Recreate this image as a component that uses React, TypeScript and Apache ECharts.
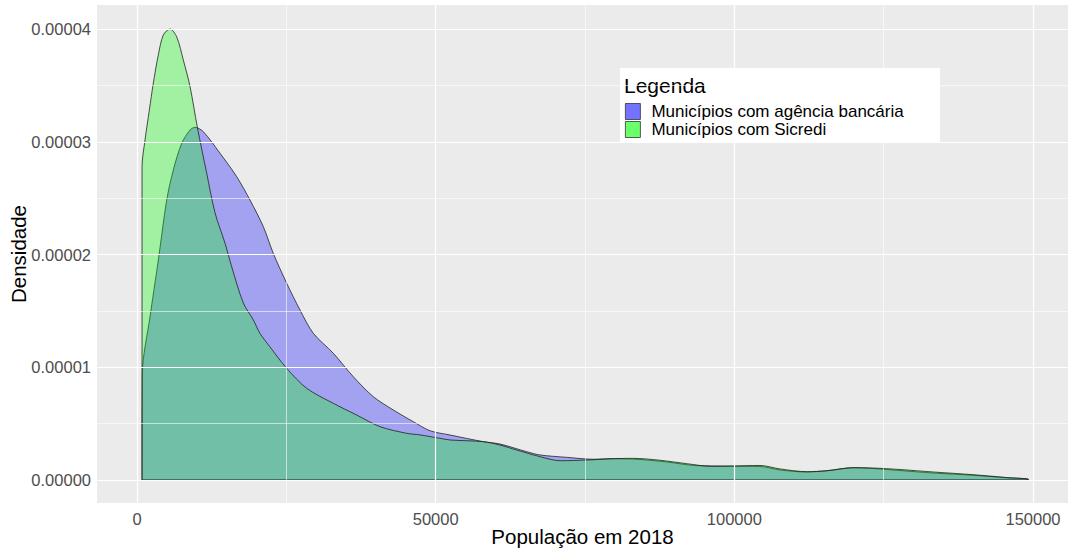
import React, { useEffect, useRef } from "react";
import * as echarts from "echarts";

// Tick values
const popTicks = [0, 50000, 100000, 150000];
const popMinor = [25000, 75000, 125000];
const densTicks = [0, 0.00001, 0.00002, 0.00003, 0.00004];
const densMinor = [0.000005, 0.000015, 0.000025, 0.000035];

// Densities below are given in units of 1e-5
const densScale = 1e-5;

// Municípios com agência bancária (density estimate)
const bancoPop = [837, 887, 2176, 3566, 4972, 6077, 7483, 8873, 9710, 11099, 13895, 16691, 18917, 21144, 22818, 25061, 27288, 29514, 32863, 36211, 39559, 42908, 46256, 49051, 52399, 57974, 60770, 65239, 67466, 71935, 76388, 79738, 84202, 88672, 93136, 99274, 104296, 107645, 112114, 115462, 119915, 123263, 127733, 133308, 140004, 145596, 149212, 149212];
const bancoDens = [0, 0.946, 1.448, 1.95, 2.483, 2.75, 2.986, 3.104, 3.128, 3.089, 2.898, 2.69, 2.483, 2.247, 2.01, 1.745, 1.508, 1.301, 1.124, 0.916, 0.739, 0.621, 0.517, 0.437, 0.399, 0.34, 0.319, 0.251, 0.222, 0.201, 0.184, 0.189, 0.182, 0.16, 0.13, 0.122, 0.12, 0.089, 0.071, 0.082, 0.109, 0.102, 0.084, 0.062, 0.042, 0.02, 0.007, 0];

// Municípios com Sicredi (density estimate)
const sicrediPop = [837, 837, 1339, 2059, 2729, 3566, 4403, 5525, 6646, 7751, 8873, 10095, 11669, 13058, 14732, 15854, 17796, 19470, 20591, 22266, 25061, 28410, 32863, 36780, 40681, 45151, 47377, 50725, 52399, 57974, 60770, 63566, 67466, 70815, 75284, 79738, 83086, 87555, 92025, 95925, 99274, 104296, 107645, 112114, 115462, 119915, 123263, 127733, 133308, 140004, 145596, 149212, 149212];
const sicrediDens = [0, 2.78, 3.015, 3.28, 3.52, 3.77, 3.947, 4.0, 3.93, 3.725, 3.49, 3.13, 2.72, 2.37, 2.1, 1.89, 1.57, 1.42, 1.3, 1.18, 0.99, 0.813, 0.68, 0.576, 0.473, 0.414, 0.4, 0.37, 0.355, 0.34, 0.31, 0.266, 0.207, 0.171, 0.177, 0.189, 0.192, 0.175, 0.145, 0.122, 0.124, 0.129, 0.098, 0.074, 0.082, 0.109, 0.106, 0.093, 0.071, 0.047, 0.022, 0.007, 0];

const seriesNames = ["Municípios com agência bancária", "Municípios com Sicredi"];

const FONT = "'Liberation Sans', Arial, sans-serif";

export default function App() {
  const ref = useRef<HTMLDivElement>(null);
  useEffect(() => {
    document.body.style.margin = "0";
    const chart = echarts.init(ref.current!, null, { renderer: "svg" });
    const zip = (xs: number[], ys: number[]) => xs.map((x, i) => [x, ys[i]]);
    const toUnits = (v: number) => Math.round((v / densScale) * 1e6) / 1e6;
    const majorLine = { color: "#FFFFFF", width: 1.2, type: "solid" as const };
    const minorLine = { color: "#FFFFFF", width: 0.6, type: "solid" as const };
    const option: any = {
      animation: false,
      textStyle: { fontFamily: FONT },
      grid: {
        left: 97,
        right: 0,
        top: 5,
        bottom: 49,
        show: true,
        backgroundColor: "#EBEBEB",
        borderWidth: 0,
        containLabel: false,
        outerBoundsMode: "none",
      },
      xAxis: {
        type: "value",
        min: -6700,
        max: 155860,
        splitLine: { show: false },
        axisLine: { show: false },
        axisTick: { show: true, customValues: popTicks, length: 4, lineStyle: { color: "#333333" } },
        axisLabel: {
          customValues: popTicks,
          formatter: (v: number) => String(Math.round(v)),
          color: "#4D4D4D",
          fontSize: 16.5,
          margin: 7,
          fontFamily: FONT,
        },
        name: "População em 2018",
        nameLocation: "middle",
        nameGap: 23,
        nameMoveOverlap: false,
        nameTextStyle: { fontSize: 20.5, color: "#000000", fontFamily: FONT },
      },
      yAxis: {
        type: "value",
        min: -0.204,
        max: 4.213,
        splitLine: { show: false },
        axisLine: { show: false },
        axisTick: { show: true, customValues: densTicks.map(toUnits), length: 4, lineStyle: { color: "#333333" } },
        axisLabel: {
          customValues: densTicks.map(toUnits),
          formatter: (v: number) => (v * densScale).toFixed(5),
          color: "#4D4D4D",
          fontSize: 16.5,
          margin: 6,
          fontFamily: FONT,
        },
        name: "Densidade",
        nameLocation: "middle",
        nameGap: 68,
        nameMoveOverlap: false,
        nameRotate: 90,
        nameTextStyle: { fontSize: 20.5, color: "#000000", fontFamily: FONT },
      },
      legend: {
        show: true,
        orient: "vertical",
        left: 625,
        top: 103,
        z: 20,
        itemWidth: 15,
        itemHeight: 16,
        itemGap: 1,
        padding: 0,
        selectedMode: false,
        icon: "rect",
        textStyle: { fontSize: 17, color: "#000000", fontFamily: FONT, padding: [0, 0, 0, 6] },
        data: [
          { name: seriesNames[0], itemStyle: { color: "#7373FF", borderColor: "#333333", borderWidth: 0.8 } },
          { name: seriesNames[1], itemStyle: { color: "#6BFF6B", borderColor: "#333333", borderWidth: 0.8 } },
        ],
      },
      graphic: {
        z: 10,
        elements: [
          {
            type: "rect",
            shape: { x: 620, y: 68, width: 320, height: 74 },
            style: { fill: "#FFFFFF" },
            silent: true,
          },
          {
            type: "text",
            x: 624,
            y: 85,
            style: { text: "Legenda", fontSize: 21, fill: "#000000", fontFamily: FONT, verticalAlign: "middle" },
            silent: true,
          },
        ],
      },
      series: [
        {
          name: "grid",
          type: "line",
          data: [[0, 0]],
          symbol: "none",
          lineStyle: { opacity: 0 },
          silent: true,
          z: 1,
          markLine: {
            silent: true,
            symbol: "none",
            precision: 6,
            label: { show: false },
            data: [
              ...popMinor.map((v) => ({ xAxis: v, lineStyle: minorLine })),
              ...densMinor.map((v) => ({ yAxis: toUnits(v), lineStyle: minorLine })),
              ...popTicks.map((v) => ({ xAxis: v, lineStyle: majorLine })),
              ...densTicks.map((v) => ({ yAxis: toUnits(v), lineStyle: majorLine })),
            ],
          },
        },
        {
          name: seriesNames[0],
          type: "line",
          data: zip(bancoPop, bancoDens),
          symbol: "none",
          smooth: 0.3,
          z: 2,
          itemStyle: { color: "#7373FF" },
          lineStyle: { color: "#222222", width: 0.8 },
          areaStyle: { color: "rgba(0,0,255,0.31)", opacity: 1 },
        },
        {
          name: seriesNames[1],
          type: "line",
          data: zip(sicrediPop, sicrediDens),
          symbol: "none",
          smooth: 0.3,
          z: 3,
          itemStyle: { color: "#6BFF6B" },
          lineStyle: { color: "#222222", width: 0.8 },
          areaStyle: { color: "rgba(0,255,0,0.31)", opacity: 1 },
        },
        {
          name: "baseline",
          type: "line",
          data: [
            [sicrediPop[0], 0],
            [sicrediPop[sicrediPop.length - 1], 0],
          ],
          symbol: "none",
          silent: true,
          z: 4,
          lineStyle: { color: "#222222", width: 1 },
        },
      ],
    };
    chart.setOption(option);
    return () => chart.dispose();
  }, []);
  return (
    <div
      ref={ref}
      style={{ position: "absolute", left: 0, top: 0, width: 1068, height: 552, background: "#FFFFFF" }}
    />
  );
}
